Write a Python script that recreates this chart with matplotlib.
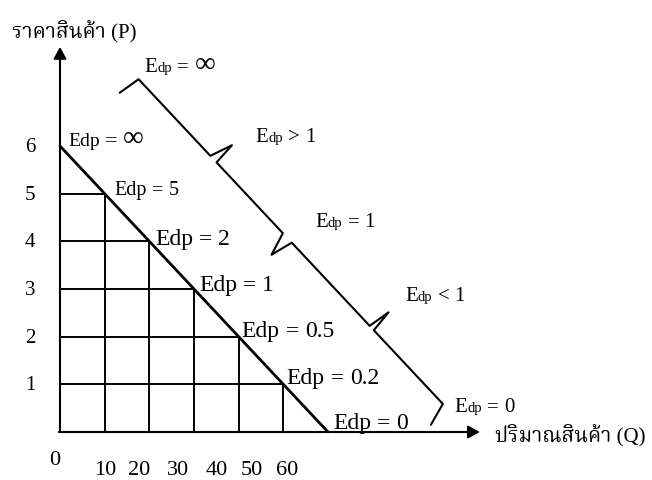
import matplotlib
matplotlib.use('Agg')
import matplotlib.pyplot as plt
import matplotlib.transforms as mtransforms
from matplotlib import font_manager
from matplotlib.ft2font import FT2Font
import numpy as np

# ---------------- data ----------------
demand_q = [0, 72]          # demand line end points (quantity)
demand_p = [6, 0]           # demand line end points (price)
grid_prices = [5, 4, 3, 2, 1]
p_tick_labels = ["6", "5", "4", "3", "2", "1"]
p_tick_values = [6, 5, 4, 3, 2, 1]
q_tick_labels = ["10", "20", "30", "40", "50", "60"]
point_prices = [6, 5, 4, 3, 2, 1, 0]
point_elasticity = ["∞", "5", "2", "1", "0.5", "0.2", "0"]
segment_labels = [("=", "∞"), (">", "1"), ("=", "1"), ("<", "1"), ("=", "0")]
y_title = "ราคาสินค้า (P)"
x_title = "ปริมาณสินค้า (Q)"

# ---------------- fonts ----------------
def find_thai():
    found = []
    for f in font_manager.fontManager.ttflist:
        try:
            cm = FT2Font(f.fname).get_charmap()
        except Exception:
            continue
        if 0x0E23 in cm and 0x0E34 in cm:
            if f.name not in found:
                found.append(f.name)
    return found

thai_fonts = find_thai()
pref = ['Noto Serif Thai', 'Norasi', 'Kinnari', 'Laksaman', 'Loma', 'Garuda',
        'Noto Sans Thai', 'FreeSerif', 'Anuphan']
thai = None
for p in pref:
    if p in thai_fonts:
        thai = p
        break
if thai is None and thai_fonts:
    thai = thai_fonts[0]
SERIF = 'Liberation Serif'
fam = [SERIF] + ([thai] if thai else []) + ['DejaVu Sans']

W, H, DPI = 652, 480, 100
fig = plt.figure(figsize=(W / DPI, H / DPI), dpi=DPI)
ax = fig.add_axes([0, 0, 1, 1])
ax.set_xlim(-16.12, 159.04)
ax.set_ylim(-1.007, 9.063)
ax.axis('off')
ident = mtransforms.IdentityTransform()
renderer = fig.canvas.get_renderer()

# demand intersections
dq = np.array(demand_q, float)
dp = np.array(demand_p, float)
def q_of(p):
    return float(np.interp(p, dp[::-1], dq[::-1]))

# grid cells
for p in grid_prices:
    q = q_of(p)
    ax.plot([0, q], [p, p], color='k', lw=1.4, solid_capstyle='butt')
    ax.plot([q, q], [0, p], color='k', lw=1.4, solid_capstyle='butt')

# demand line
ax.plot(dq, dp, color='k', lw=2.0, solid_capstyle='round')

# axes with arrows
arrow = dict(arrowstyle='-|>,head_length=0.7,head_width=0.38', mutation_scale=10,
             color='k', lw=1.5, shrinkA=0, shrinkB=0)
ax.annotate('', xy=(0, 8.08), xytext=(0, 0), arrowprops=arrow)
ax.annotate('', xy=(112.8, 0), xytext=(-0.3, 0), arrowprops=arrow)

# tick labels
for v, lab in zip(p_tick_values, p_tick_labels):
    ax.text(-8.0, v - 0.03, lab, ha='center', va='center', fontsize=15, family=fam)
q_label_pos = [12.1, 21.3, 31.8, 42.1, 51.5, 60.9]
for x, lab in zip(q_label_pos, q_tick_labels):
    ax.text(x, -0.80, lab, ha='center', va='center', fontsize=16, family=fam)
ax.text(-1.4, -0.59, "0", ha='center', va='center', fontsize=16, family=fam)

# axis titles (pixel coords from top-left, baseline)
fig.text(11.5, H - 38, y_title, transform=ident, ha='left', va='baseline',
         fontsize=15, family=fam)
fig.text(495, H - 442, x_title, transform=ident, ha='left', va='baseline',
         fontsize=15, family=fam)

def rich(x, y, parts):
    cx = x
    for s, size in parts:
        if isinstance(s, float):
            cx += s
            continue
        if s == ' ':
            cx += 0.25 * size * DPI / 72
            continue
        t = fig.text(cx, H - y, s, transform=ident, ha='left', va='baseline',
                     fontsize=size, family=fam)
        cx += t.get_window_extent(renderer).width
    return cx

# point elasticity labels along the demand line
pt_offsets = [(8, 0), (10, 1.3), (5.7, 3.7), (5, 1.7), (3, 0), (3.4, 0), (5.3, -2.7)]
pt_sizes = [14, 14.5, 17, 17, 17, 17, 17]
for p, e, (ox, oy), sz in zip(point_prices, point_elasticity, pt_offsets, pt_sizes):
    xd, yd = ax.transData.transform((q_of(p), p))
    x_img, y_img = xd + ox, (H - yd) + oy
    if e == "∞":
        rich(x_img, y_img, [("Edp", sz), (" ", sz), ("=", sz + 2), (6.0, 0),
                            ("∞", sz + 7)])
    else:
        rich(x_img, y_img, [("Edp", sz), (" ", sz), ("=", sz), (" ", sz), (e, sz)])

# brace parallel to the demand line
p0 = ax.transData.transform((dq[0], dp[0]))
p1 = ax.transData.transform((dq[1], dp[1]))
u = (p1 - p0) / np.hypot(*(p1 - p0))
n = np.array([-u[1], u[0]])
d, h = 103.0, 23.0
knots = [(2, d - h), (5, d), (110, d), (117, d + h), (119, d), (216, d), (224, d - h),
         (229, d), (343, d), (346, d + h), (349, d), (450, d), (457, d - h)]
pts = np.array([p0 + a * u + b * n for a, b in knots])
ax.plot(pts[:, 0], pts[:, 1], color='k', lw=1.5, transform=ident,
        solid_joinstyle='round', solid_capstyle='round')

seg_pos = [(144.3, 72.3), (255.7, 141.7), (315, 226.7), (405, 301), (454.3, 411.7)]
for (op, val), (x, y) in zip(segment_labels, seg_pos):
    big = 15
    if val == "∞":
        rich(x, y, [("E", big), ("dp", 10.5), (" ", big), (op, big), (6.0, 0),
                    ("∞", big + 6)])
    else:
        rich(x, y, [("E", big), ("dp", 10.5), (" ", big), (op, big), (" ", big), (val, big)])

fig.savefig('out.png', dpi=DPI)
